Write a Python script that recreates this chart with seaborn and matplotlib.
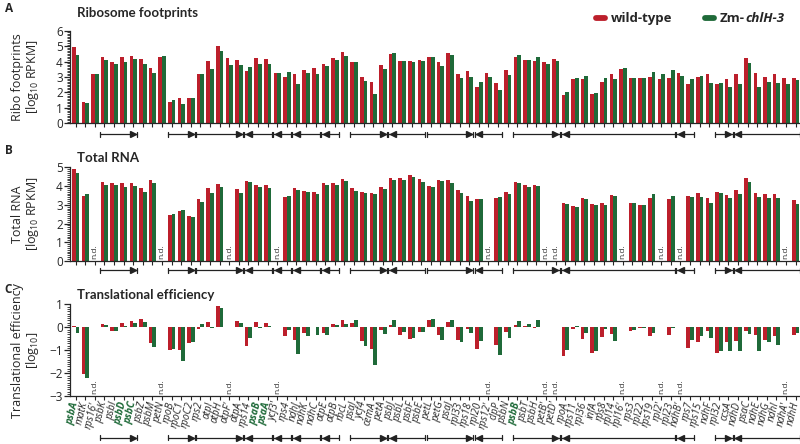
import numpy as np
import pandas as pd
import matplotlib
matplotlib.use("Agg")
import matplotlib.pyplot as plt
import seaborn as sns
from matplotlib import transforms
from matplotlib.lines import Line2D
from matplotlib.ticker import MultipleLocator

nan = np.nan

genes = ["psbA", "matK", "rps16'", "psbK", "psbI", "psbD", "psbC", "psbZ", "psbM", "petN",
         "rpoB", "rpoC1", "rpoC2", "rps2", "atpI", "atpH", "atpF'", "atpA", "rps14", "psaB",
         "psaA", "ycf3'", "rps4", "ndhJ", "ndhK", "ndhC", "atpE", "atpB", "rbcL", "psaI",
         "ycf4", "cemA", "petA", "psbJ", "psbL", "psbF", "psbE", "petL", "petG", "psaJ",
         "rpl33", "rps18", "rpl20", "rps12'", "clpP", "psbN", "psbB", "psbT", "psbH", "petB'",
         "petD'", "rpoA", "rps11", "rpl36", "infA", "rps8", "rpl14", "rpl16'", "rps3", "rpl22",
         "rps19", "rpl2'", "rpl23", "ndhB'", "rps7", "rps15", "ndhF", "rpl32", "ccsA", "ndhD",
         "psaC", "ndhE", "ndhG", "ndhI", "ndhA'", "ndhH"]
highlight_genes = ["psbA", "psbD", "psbC", "psaB", "psaA", "psbB"]
genotypes = ["wild-type", "Zm-chlH-3"]

rf_wt = [4.92, 1.40, 3.17, 4.30, 4.00, 4.30, 4.36, 4.15, 3.61, 4.30,
         1.40, 1.62, 1.62, 3.17, 4.06, 5.01, 4.23, 4.08, 3.39, 4.23,
         4.19, 3.24, 3.00, 3.22, 3.43, 3.61, 3.82, 4.25, 4.60, 3.97,
         3.02, 2.66, 3.76, 4.47, 4.02, 4.02, 4.08, 4.30, 3.97, 4.54,
         3.22, 3.39, 2.33, 3.24, 2.59, 3.48, 4.30, 4.10, 4.04, 3.97,
         4.19, 1.84, 2.85, 2.85, 1.92, 2.68, 3.22, 3.52, 2.96, 2.96,
         3.00, 2.85, 2.96, 3.24, 2.57, 3.00, 3.22, 2.57, 2.87, 3.22,
         4.25, 3.28, 3.02, 3.22, 2.96, 2.92]
rf_mut = [4.41, 1.30, 3.22, 4.13, 3.84, 3.95, 4.17, 3.82, 3.24, 4.34,
          1.51, 1.23, 1.64, 3.22, 3.54, 4.69, 3.78, 3.76, 3.67, 3.87,
          3.87, 3.28, 3.33, 2.57, 3.24, 3.17, 3.69, 4.13, 4.34, 3.97,
          2.76, 1.88, 3.50, 4.58, 4.02, 3.95, 4.02, 4.30, 3.71, 4.45,
          2.96, 2.98, 2.70, 3.02, 2.18, 3.11, 4.43, 4.10, 4.32, 3.82,
          4.02, 2.05, 2.92, 3.09, 1.97, 2.92, 2.89, 3.56, 2.96, 2.96,
          3.30, 3.17, 3.46, 3.07, 2.85, 3.05, 2.61, 2.61, 2.33, 2.55,
          3.93, 2.38, 2.70, 2.59, 2.53, 2.79]

rna_wt = [4.93, 3.47, nan, 4.20, 4.18, 4.15, 4.15, 3.88, 4.34, nan,
          2.47, 2.67, 2.38, 3.29, 3.90, 4.13, nan, 3.86, 4.25, 4.04,
          4.04, nan, 3.43, 3.88, 3.75, 3.67, 4.15, 4.15, 4.38, 3.88,
          3.68, 3.61, 3.95, 4.45, 4.43, 4.57, 4.36, 4.00, 4.31, 4.31,
          3.77, 3.45, 3.29, nan, 3.36, 3.70, 4.22, 4.04, 4.07, nan,
          nan, 3.08, 2.94, 3.35, 3.04, 3.10, 3.52, nan, 3.11, 2.97,
          3.38, nan, 3.31, nan, 3.45, 3.65, 3.36, 3.68, 3.52, 3.81,
          4.43, 3.63, 3.59, 3.59, nan, 3.27]
rna_mut = [4.70, 3.56, nan, 4.07, 4.07, 3.95, 4.02, 3.67, 4.16, nan,
           2.53, 2.74, 2.33, 3.15, 3.61, 3.93, nan, 3.61, 4.20, 3.93,
           3.90, nan, 3.49, 3.79, 3.68, 3.58, 4.06, 4.07, 4.25, 3.75,
           3.63, 3.58, 3.83, 4.34, 4.31, 4.47, 4.22, 3.95, 4.27, 4.15,
           3.61, 3.22, 3.29, nan, 3.40, 3.56, 4.15, 3.97, 3.99, nan,
           nan, 3.04, 2.86, 3.33, 3.01, 2.99, 3.47, nan, 3.08, 2.99,
           3.56, nan, 3.47, nan, 3.42, 3.43, 3.08, 3.65, 3.35, 3.58,
           4.23, 3.42, 3.36, 3.38, nan, 3.04]

te_wt = [0.06, -2.01, nan, 0.14, -0.14, 0.20, 0.26, 0.35, -0.70, nan,
         -0.99, -0.97, -0.68, -0.07, 0.25, 0.93, nan, 0.28, -0.80, 0.25,
         0.17, nan, -0.36, -0.57, -0.23, 0.00, -0.23, 0.16, 0.30, 0.19,
         -0.61, -0.93, -0.13, 0.09, -0.35, -0.49, -0.22, 0.30, -0.34, 0.23,
         -0.55, -0.06, -0.96, nan, -0.77, -0.22, 0.08, 0.06, -0.03, nan,
         nan, -1.24, -0.09, -0.50, -1.12, -0.42, -0.30, nan, -0.15, -0.01,
         -0.38, nan, -0.35, nan, -0.88, -0.65, -0.14, -1.11, -0.65, -0.59,
         -0.18, -0.35, -0.57, -0.37, nan, -0.35]
te_mut = [-0.25, -2.20, nan, 0.10, -0.17, 0.07, 0.20, 0.23, -0.86, nan,
          -0.94, -1.46, -0.62, 0.13, -0.03, 0.83, nan, 0.19, -0.46, -0.03,
          0.07, nan, -0.10, -1.16, -0.36, -0.33, -0.35, 0.10, 0.14, 0.30,
          -0.80, -1.65, -0.28, 0.30, -0.22, -0.45, -0.20, 0.35, -0.56, 0.30,
          -0.65, -0.24, -0.59, nan, -1.22, -0.45, 0.28, 0.13, 0.33, nan,
          nan, -0.99, 0.06, -0.24, -1.04, -0.07, -0.58, nan, -0.12, -0.03,
          -0.26, nan, -0.01, nan, -0.57, -0.38, -0.47, -1.04, -1.02, -1.03,
          -0.30, -1.04, -0.66, -0.79, nan, -0.25]

# transcription units: (first gene index, last gene index, direction)
operons = [(3, 6, 1), (10, 12, 1), (13, 17, 1), (18, 20, -1), (21, 22, -1), (23, 25, -1),
           (26, 27, -1), (29, 32, 1), (33, 36, -1), (37, 41, 1), (42, 44, -1), (46, 50, 1),
           (51, 62, -1), (63, 64, -1), (67, 68, 1), (69, 75, -1)]

RED = "#BC1F2B"
GREEN = "#1F6A39"

sns.set_theme(style="ticks")
plt.rcParams["font.family"] = ["Open Sans", "DejaVu Sans"]
plt.rcParams["mathtext.fontset"] = "custom"
plt.rcParams["mathtext.rm"] = "Open Sans"
plt.rcParams["mathtext.it"] = "Open Sans:italic"
plt.rcParams["mathtext.bf"] = "Open Sans:bold"
plt.rcParams["axes.linewidth"] = 0.9

fig = plt.figure(figsize=(8, 4.44), dpi=100)
L, W = 0.088, 0.912
axA = fig.add_axes([L, 0.7223, W, 0.2086])
axB = fig.add_axes([L, 0.4122, W, 0.2110])
axC = fig.add_axes([L, 0.1074, W, 0.2072])

n = len(genes)


def draw(ax, wt, mut, ylim, yticks, ylabel, arrow_y, nd_y):
    df = pd.DataFrame({"gene": genes * 2,
                       "genotype": [genotypes[0]] * n + [genotypes[1]] * n,
                       "value": list(wt) + list(mut)})
    sns.barplot(data=df, x="gene", y="value", hue="genotype", order=genes,
                hue_order=genotypes, palette=[RED, GREEN], width=0.76,
                errorbar=None, legend=False, ax=ax, linewidth=0, saturation=1)
    ax.set_xlim(-0.55, n - 0.55)
    ax.set_ylim(*ylim)
    ax.set_yticks(yticks)
    ax.yaxis.set_minor_locator(MultipleLocator(0.1))
    ax.tick_params(axis="y", which="major", length=4, width=0.9, labelsize=8.5, pad=1.5)
    ax.tick_params(axis="y", which="minor", length=2, width=0.6)
    ax.tick_params(axis="x", length=3, width=0.8, pad=1)
    ax.set_xticks(range(n))
    ax.set_xlabel("")
    ax.set_ylabel(ylabel, fontsize=9, linespacing=1.05)
    ax.yaxis.set_label_coords(-0.040, 0.5)
    for s in ("top", "right"):
        ax.spines[s].set_visible(False)
    # n.d. labels
    for i in range(n):
        if np.isnan(wt[i]):
            ax.text(i, nd_y, "n.d.", rotation=90, ha="center", va="bottom",
                    fontsize=6, color="#333333")
    # transcription unit arrows
    tr = transforms.blended_transform_factory(ax.transData, ax.transAxes)
    for s, e, d in operons:
        x0, x1 = s - 0.42, e + 0.42
        ax.add_line(Line2D([x0, x1], [arrow_y, arrow_y], color="#222222", lw=0.9,
                           transform=tr, clip_on=False))
        for xc in (x0, x1):
            ax.add_line(Line2D([xc, xc], [arrow_y - 0.03, arrow_y + 0.03], color="#222222",
                               lw=0.9, transform=tr, clip_on=False))
        if d > 0:
            ax.add_line(Line2D([x1 - 0.45], [arrow_y], marker=">", ms=4.5, color="#222222",
                               lw=0, transform=tr, clip_on=False))
        else:
            ax.add_line(Line2D([x0 + 0.45], [arrow_y], marker="<", ms=4.5, color="#222222",
                               lw=0, transform=tr, clip_on=False))


draw(axA, rf_wt, rf_mut, (0, 6), range(0, 7), "Ribo footprints\n[log$_{10}$ RPKM]", -0.12, 0.1)
draw(axB, rna_wt, rna_mut, (0, 5), range(0, 6), "Total RNA\n[log$_{10}$ RPKM]", -0.10, 0.12)
draw(axC, te_wt, te_mut, (-3, 1), range(-3, 2), "Translational efficiency\n[log$_{10}$]", -0.45, -2.88)

for ax in (axA, axB):
    ax.set_xticklabels([])
axC.set_xticklabels(genes, rotation=76, ha="right", va="center", rotation_mode="anchor",
                    fontsize=7.2, style="italic")
for lab in axC.get_xticklabels():
    if lab.get_text() in highlight_genes:
        lab.set_color(GREEN)
        lab.set_fontweight("bold")

# titles & panel letters
tfont = dict(fontsize=9.5, weight="bold", va="center", family=["Lato", "DejaVu Sans"])
fig.text(0.096, 1 - 13 / 444, "Ribosome footprints", **tfont)
fig.text(0.096, 1 - 157.7 / 444, "Total RNA", **tfont)
fig.text(0.096, 1 - 295 / 444, "Translational efficiency", **tfont)
fig.text(0.006, 1 - 8 / 444, "A", fontsize=8.5, weight="bold", va="center")
fig.text(0.006, 1 - 151 / 444, "B", fontsize=8.5, weight="bold", va="center")
fig.text(0.006, 1 - 289 / 444, "C", fontsize=8.5, weight="bold", va="center")

# legend
ly = 1 - 18.3 / 444
fig.add_artist(Line2D([596 / 800, 605 / 800], [ly, ly], color=RED, lw=4.2,
                      solid_capstyle="round", transform=fig.transFigure))
fig.text(611 / 800, ly, "wild-type", fontsize=9.5, weight="bold", va="center")
fig.add_artist(Line2D([705 / 800, 714 / 800], [ly, ly], color=GREEN, lw=4.2,
                      solid_capstyle="round", transform=fig.transFigure))
t1 = fig.text(720 / 800, ly, "Zm-", fontsize=9.5, weight="bold", va="center")
fig.canvas.draw()
bb = t1.get_window_extent()
fig.text((bb.x1 + 0.5) / fig.bbox.width, ly, "chlH-3", fontsize=9.5, weight="bold",
         style="italic", va="center")

fig.savefig("out.png", dpi=100)
